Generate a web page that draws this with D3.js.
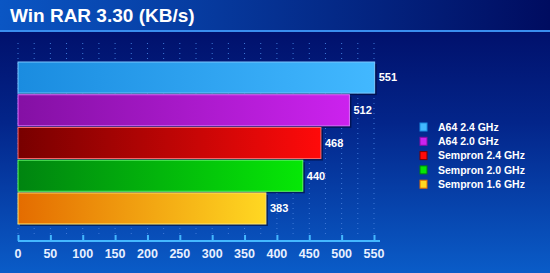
<!DOCTYPE html>
<html>
<head>
<meta charset="utf-8">
<script src="https://cdn.jsdelivr.net/npm/d3@7"></script>
<style>
  body { margin: 0; background: #000a60; }
  svg { display: block; font-family: "Liberation Sans", Arial, sans-serif; }
</style>
</head>
<body>
<div id="chart"></div>
<script>
const cpus = ["A64 2.4 GHz", "A64 2.0 GHz", "Sempron 2.4 GHz", "Sempron 2.0 GHz", "Sempron 1.6 GHz"];
const scores = [551, 512, 468, 440, 383];
const darkColors = ["#1a8ce0", "#8410a4", "#780000", "#008410", "#e46c00"];
const lightColors = ["#42b8ff", "#cc22ee", "#ff0a0a", "#06e806", "#ffd822"];
const edgeColors = ["#7cc8ff", "#e070ff", "#ff6a6a", "#60ff60", "#ffe870"];
const xTicks = [0, 50, 100, 150, 200, 250, 300, 350, 400, 450, 500, 550];
const chartTitle = "Win RAR 3.30 (KB/s)";

const width = 550;
const height = 273;

const svg = d3.select("#chart").append("svg")
  .attr("width", width)
  .attr("height", height);

const defs = svg.append("defs");

// background gradients
const bg = defs.append("linearGradient").attr("id", "bg")
  .attr("x1", 0).attr("y1", 0).attr("x2", 0).attr("y2", 1);
bg.append("stop").attr("offset", "0%").attr("stop-color", "#000a62");
bg.append("stop").attr("offset", "45%").attr("stop-color", "#03258a");
bg.append("stop").attr("offset", "100%").attr("stop-color", "#0a5cc8");

const head = defs.append("linearGradient").attr("id", "head");
head.append("stop").attr("offset", "0%").attr("stop-color", "#0a56c4");
head.append("stop").attr("offset", "100%").attr("stop-color", "#000c60");

cpus.forEach((c, i) => {
  const g = defs.append("linearGradient").attr("id", "bar" + i);
  g.append("stop").attr("offset", "0%").attr("stop-color", darkColors[i]);
  g.append("stop").attr("offset", "100%").attr("stop-color", lightColors[i]);
});

svg.append("rect").attr("width", width).attr("height", height).attr("fill", "url(#bg)");
svg.append("rect").attr("width", width).attr("height", 31).attr("fill", "url(#head)");
svg.append("rect").attr("y", 30).attr("width", width).attr("height", 2).attr("fill", "#3a8ef0");

svg.append("text")
  .attr("x", 10).attr("y", 22)
  .attr("fill", "#ffffff")
  .attr("font-size", 19)
  .attr("font-weight", "bold")
  .text(chartTitle);

const x = d3.scaleLinear().domain([0, 550]).range([18, 374]);
const y = d3.scaleBand().domain(cpus).range([62, 224]).paddingInner(0.05);

// dotted grid every 25
svg.append("g")
  .selectAll("line")
  .data(d3.range(0, 551, 25))
  .join("line")
  .attr("x1", d => x(d)).attr("x2", d => x(d))
  .attr("y1", 43).attr("y2", 234)
  .attr("stroke", "#3f7ad8")
  .attr("stroke-width", 1)
  .attr("stroke-dasharray", "1,4");

// bars
const bars = svg.append("g")
  .selectAll("g")
  .data(cpus)
  .join("g");

bars.append("rect")
  .attr("x", x(0) + 2)
  .attr("y", d => y(d) + 2)
  .attr("width", (d, i) => x(scores[i]) - x(0))
  .attr("height", y.bandwidth())
  .attr("fill", "#000830")
  .attr("opacity", 0.6);

bars.append("rect")
  .attr("x", x(0))
  .attr("y", d => y(d))
  .attr("width", (d, i) => x(scores[i]) - x(0))
  .attr("height", y.bandwidth())
  .attr("fill", (d, i) => `url(#bar${i})`)
  .attr("stroke", (d, i) => edgeColors[i])
  .attr("stroke-width", 1);

bars.append("text")
  .attr("x", (d, i) => x(scores[i]) + 4)
  .attr("y", d => y(d) + y.bandwidth() / 2)
  .attr("dy", "0.35em")
  .attr("fill", "#ffffff")
  .attr("font-size", 11)
  .attr("font-weight", "bold")
  .text((d, i) => scores[i]);

// x axis
const axis = svg.append("g")
  .attr("transform", "translate(0,241)")
  .call(d3.axisTop(x).tickValues(xTicks).tickSize(6).tickFormat(""));
axis.select(".domain").attr("stroke", "#44b8ff").attr("stroke-width", 2)
  .attr("d", `M${x(0)},0H${x(550) + 6}`);
axis.selectAll(".tick line").attr("stroke", "#44b8ff").attr("stroke-width", 2);

svg.append("g")
  .selectAll("text")
  .data(xTicks)
  .join("text")
  .attr("x", d => x(d))
  .attr("y", 258)
  .attr("text-anchor", "middle")
  .attr("fill", "#e8f0ff")
  .attr("font-size", 12.5)
  .attr("font-weight", "bold")
  .text(d => d);

// legend
const legend = svg.append("g")
  .selectAll("g")
  .data(cpus)
  .join("g")
  .attr("transform", (d, i) => `translate(420,${127 + i * 14.3})`);

legend.append("rect")
  .attr("x", 0).attr("y", -4)
  .attr("width", 7).attr("height", 8)
  .attr("fill", (d, i) => lightColors[i])
  .attr("stroke", (d, i) => darkColors[i])
  .attr("stroke-width", 1);

legend.append("text")
  .attr("x", 18)
  .attr("dy", "0.35em")
  .attr("fill", "#ffffff")
  .attr("font-size", 10.5)
  .attr("font-weight", "bold")
  .text(d => d);
</script>
</body>
</html>
